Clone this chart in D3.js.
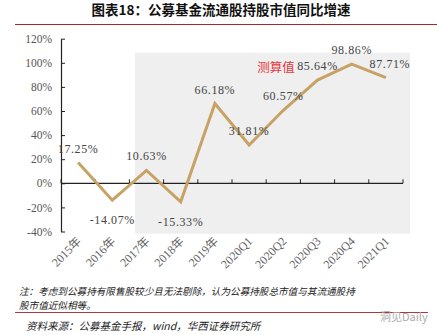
<!DOCTYPE html>
<html><head><meta charset="utf-8">
<script src="https://cdn.jsdelivr.net/npm/d3@7"></script>
<style>body{margin:0;background:#fff}svg{display:block}</style>
</head><body>
<script>
const categories = ["2015年","2016年","2017年","2018年","2019年","2020Q1","2020Q2","2020Q3","2020Q4","2021Q1"];
const values = [17.25,-14.07,10.63,-15.33,66.18,31.81,60.57,85.64,98.86,87.71];
const labelAbove = [true,false,true,false,true,true,true,true,true,true];
const yTicks = [-40,-20,0,20,40,60,80,100,120];
const title = "图表18：公募基金流通股持股市值同比增速";
const note1 = "注：考虑到公募持有限售股较少且无法剔除，认为公募持股总市值与其流通股持";
const note2 = "股市值近似相等。";
const source = "资料来源：公募基金手报，wind，华西证券研究所";

const W=437,H=335;
const svg=d3.select("body").append("svg").attr("width",W).attr("height",H);
const serif="'Liberation Serif','Noto Sans CJK SC',serif";
const cjk="'Noto Sans CJK SC',sans-serif";

const x=d3.scaleBand().domain(categories).range([61,403]);
const y=d3.scaleLinear().domain([-40,120]).range([231.5,38.7]);

// shaded area
svg.append("rect").attr("x",135).attr("y",52.7).attr("width",275).attr("height",181).attr("fill","#efefef");

// title
svg.append("text").attr("x",221).attr("y",15).attr("text-anchor","middle")
  .attr("font-family",cjk).attr("font-weight","bold").attr("font-size",13.5).attr("fill","#111").text(title);
svg.append("line").attr("x1",15).attr("x2",437).attr("y1",24.5).attr("y2",24.5).attr("stroke","#a3292f").attr("stroke-width",1.2);

// y axis
const ya=svg.append("g").attr("transform","translate(61,0)")
  .call(d3.axisLeft(y).tickValues(yTicks).tickFormat(d=>d+"%").tickSize(4).tickSizeOuter(0));
ya.select(".domain").attr("stroke","#222").attr("stroke-width",1.2);
ya.selectAll(".tick line").attr("stroke","#222").attr("x2",4).attr("x1",0);
ya.selectAll("text").attr("font-family",serif).attr("font-size",11.5).attr("fill","#555").attr("x",-9);

// x axis at 0
const xa=svg.append("g").attr("transform",`translate(0,${y(0)})`);
xa.append("line").attr("x1",61).attr("x2",403).attr("stroke","#222").attr("stroke-width",1.2);
const bounds=categories.map(c=>x(c)).concat([x.range()[1]]);
bounds.forEach(b=>xa.append("line").attr("x1",b).attr("x2",b).attr("y1",0).attr("y2",-4).attr("stroke","#222"));

// x labels rotated
categories.forEach(c=>{
  const cx=x(c)+x.bandwidth()/2;
  svg.append("text").attr("transform",`translate(${cx+4},${242}) rotate(-45)`)
    .attr("text-anchor","end").attr("font-family",serif).attr("font-size",12).attr("fill","#666").text(c);
});

// line
const line=d3.line().x((d,i)=>x(categories[i])+x.bandwidth()/2).y(d=>y(d));
svg.append("path").datum(values).attr("d",line).attr("fill","none").attr("stroke","#c8a264").attr("stroke-width",3).attr("stroke-linejoin","miter");

// value labels
values.forEach((v,i)=>{
  const cx=x(categories[i])+x.bandwidth()/2;
  const ty = labelAbove[i] ? y(v)-10 : y(v)+24;
  svg.append("text").attr("x",cx+ (i===9?4:0)).attr("y",ty).attr("text-anchor","middle")
    .attr("font-family",serif).attr("font-size",12).attr("fill","#444").attr("letter-spacing",0.6)
    .text(v.toFixed(2)+"%");
});

svg.append("text").attr("x",276).attr("y",72).attr("text-anchor","middle").attr("font-family",cjk)
  .attr("font-size",12.5).attr("fill","#e8363c").text("测算值");

// notes
svg.append("text").attr("x",19).attr("y",295).attr("font-family",cjk).attr("font-style","italic").attr("font-size",9.6).attr("fill","#222").text(note1);
svg.append("text").attr("x",19).attr("y",309).attr("font-family",cjk).attr("font-style","italic").attr("font-size",9.6).attr("fill","#222").text(note2);
svg.append("line").attr("x1",15).attr("x2",428).attr("y1",312.5).attr("y2",312.5).attr("stroke","#b0383c").attr("stroke-width",1.2);
svg.append("text").attr("x",26).attr("y",330).attr("font-family",cjk).attr("font-style","italic").attr("font-size",10.5).attr("fill","#222").text(source);
svg.append("text").attr("x",380).attr("y",321).attr("font-family",cjk).attr("font-size",11).attr("fill","#aaa").text("洞见Daily");
</script>
</body></html>
